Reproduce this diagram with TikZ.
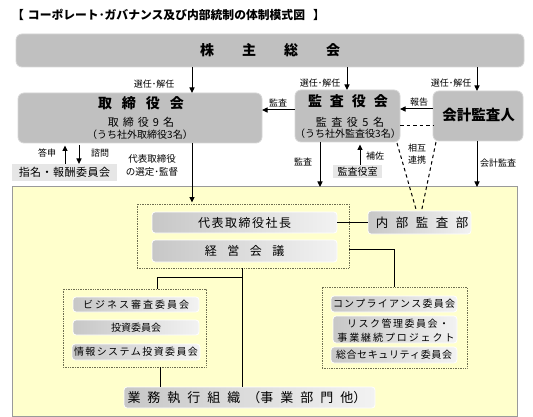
\documentclass[tikz,border=0pt]{standalone}
\usepackage{fontspec}
\setmainfont{Noto Sans CJK JP}
\usetikzlibrary{arrows.meta,calc}
\definecolor{boxgray}{HTML}{C0C0C0}
\definecolor{boxedge}{HTML}{D6D6D6}
\definecolor{paleg}{HTML}{E6E6E6}
\definecolor{yel}{HTML}{FFFFCC}
\definecolor{yeledge}{HTML}{9A9A9A}
\definecolor{dotcol}{HTML}{6E6E50}
\makeatletter
\def\ls@endmark{\ls@end}
\newcommand\ls[2]{\def\ls@gap{#1}\ls@first#2\ls@end}
\def\ls@first#1{#1\ls@next}
\def\ls@next#1{\def\ls@tmp{#1}\ifx\ls@tmp\ls@endmark\else\hspace{\ls@gap}#1\expandafter\ls@next\fi}
\makeatother
\newcommand\fsz[1]{\fontsize{#1}{#1}\selectfont}
\tikzset{
  gbox/.style={fill=boxgray, draw=boxedge, line width=0.8pt, rounded corners=6pt, inner sep=0pt, outer sep=0pt},
  pbox/.style={fill=paleg, inner sep=0pt, outer sep=0pt},
  ibox/.style={left color=black!22, right color=black!5, draw=white, line width=0.8pt, rounded corners=3pt, inner sep=0pt, outer sep=0pt},
  grp/.style={draw=dotcol, densely dotted, line width=0.7pt, inner sep=0pt, outer sep=0pt},
  arr/.style={line width=1pt, -{Triangle[length=5.5pt,width=5pt]}},
  conn/.style={line width=1pt},
  dsh/.style={line width=1pt, dash pattern=on 3.5pt off 3pt},
  lbl/.style={font=\fsz{9}, inner sep=0pt},
  txt/.style={inner sep=0pt},
}
\begin{document}
\begin{tikzpicture}[x=1pt,y=-1pt]
\useasboundingbox (0,0) rectangle (533,417);
% title
\node[txt, anchor=west, font=\fsz{11.8}\bfseries] (title) at (12,15) {【\hspace{4pt}コーポレート･ガバナンス及び内部統制の体制模式図\hspace{8pt}】};
% yellow area
\node[fill=yel, draw=yeledge, line width=1pt, minimum width=505pt, minimum height=229pt, inner sep=0pt, outer sep=0pt] (yellow) at (264.5,301.5) {};
% top boxes
\node[gbox, minimum width=508pt, minimum height=33pt] (kabu) at (270,50.5) {};
\node[txt, font=\fsz{14}\bfseries] (kabut) at (kabu) {\ls{28pt}{株主総会}};
\node[gbox, minimum width=244pt, minimum height=50pt] (tori) at (140,118) {};
\node[txt, font=\fsz{14}\bfseries] (torit1) at (141,103) {\ls{10pt}{取締役会}};
\node[txt, font=\fsz{11}] (torit2) at (141,122.5) {\ls{4pt}{取締役9名}};
\node[txt, font=\fsz{10}] (torit3) at (140,135) {（うち社外取締役3名）};
\node[gbox, minimum width=105pt, minimum height=52pt] (kansa) at (347.5,116) {};
\node[txt, font=\fsz{14}\bfseries] (kansat1) at (348,101) {\ls{8pt}{監査役会}};
\node[txt, font=\fsz{11}] (kansat2) at (350,122.5) {\ls{4.5pt}{監査役5名}};
\node[txt, font=\fsz{10}] (kansat3) at (348,133.5) {（うち社外監査役3名）};
\node[gbox, minimum width=90pt, minimum height=50pt] (kaikei) at (478,116) {};
\node[txt, font=\fsz{14.5}\bfseries] (kaikeit) at (478.5,115) {会計監査人};
% small pale boxes
\node[pbox, minimum width=105pt, minimum height=17pt] (shimei) at (64.5,172.5) {};
\node[txt, font=\fsz{11}] (shimeit) at (shimei) {\ls{0.5pt}{指名・報酬委員会}};
\node[pbox, minimum width=49pt, minimum height=13pt] (kshitsu) at (357.5,171.5) {};
\node[txt, font=\fsz{10}] (kshitsut) at (kshitsu) {監査役室};
% groups
\node[grp, minimum width=212pt, minimum height=64pt] (topgrp) at (243,236) {};
\node[grp, minimum width=143pt, minimum height=78pt] (leftgrp) at (134.5,328) {};
\node[grp, minimum width=145pt, minimum height=81pt] (rightgrp) at (394.5,327.5) {};
% inner boxes
\node[ibox, minimum width=185pt, minimum height=21pt] (daihyo) at (244.5,222.5) {};
\node[txt, font=\fsz{12}] (daihyot) at (daihyo) {\ls{1.5pt}{代表取締役社長}};
\node[ibox, minimum width=185pt, minimum height=22pt] (keiei) at (244.5,251) {};
\node[txt, font=\fsz{12}] (keieit) at (keiei) {\ls{10.5pt}{経営会議}};
\node[ibox, minimum width=103pt, minimum height=23pt] (naibu) at (419.5,222.5) {};
\node[txt, font=\fsz{12.5}] (naibut) at (422,222.5) {\ls{7.5pt}{内部監査部}};
\node[ibox, minimum width=126pt, minimum height=15pt] (biz) at (136,304.5) {};
\node[txt, font=\fsz{10}] (bizt) at (biz) {\ls{2pt}{ビジネス審査委員会}};
\node[ibox, minimum width=126pt, minimum height=15pt] (toshi) at (136,327.5) {};
\node[txt, font=\fsz{10}] (toshit) at (toshi) {投資委員会};
\node[ibox, minimum width=128pt, minimum height=16pt] (joho) at (136,352) {};
\node[txt, font=\fsz{10}] (johot) at (joho) {\ls{1.4pt}{情報システム投資委員会}};
\node[ibox, minimum width=126pt, minimum height=16pt] (comp) at (394,304) {};
\node[txt, font=\fsz{10}] (compt) at (comp) {\ls{1.2pt}{コンプライアンス委員会}};
\node[ibox, minimum width=124pt, minimum height=27pt] (risk) at (395,329.5) {};
\node[txt, font=\fsz{10}] (riskt1) at (398,324) {\ls{1.5pt}{リスク管理委員会・}};
\node[txt, font=\fsz{10}] (riskt2) at (396,338) {\ls{1.9pt}{事業継続プロジェクト}};
\node[ibox, minimum width=126pt, minimum height=16pt] (sec) at (394,355) {};
\node[txt, font=\fsz{10}] (sect) at (sec) {\ls{0.6pt}{総合セキュリティ委員会}};
\node[ibox, minimum width=251pt, minimum height=21pt] (gyomu) at (249.5,397.5) {};
\node[txt, font=\fsz{13}] (gyomut) at (247,397.5) {\ls{7pt}{業務執行組織{（事}業部門{他）}}};
% helper coordinates
\coordinate (x1) at (192,0);
\coordinate (x2) at (347,0);
\coordinate (x3) at (477,0);
\coordinate (ya) at (0,110);
\coordinate (yb) at (0,109);
\coordinate (yc) at (0,126);
\coordinate (xa) at (65,0);
\coordinate (xb) at (79,0);
\coordinate (xk) at (320,0);
\coordinate (xh) at (360,0);
\coordinate (yd) at (0,249);
\coordinate (xr) at (394,0);
\coordinate (xm) at (242,0);
\coordinate (ye) at (0,277);
\coordinate (xl) at (157,0);
\coordinate (xn) at (160,0);
% connectors
\draw[arr] (kabu.south -| x1) -- (tori.north -| x1);
\draw[arr] (kabu.south -| x2) -- (kansa.north -| x2);
\draw[arr] (kabu.south -| x3) -- (kaikei.north -| x3);
\node[lbl] (sen1) at (154,84) {選任･解任};
\node[lbl] (sen2) at (320,83) {選任･解任};
\node[lbl] (sen3) at (451,83) {選任･解任};
\draw[arr] (kansa.west |- ya) -- (tori.east |- ya);
\node[lbl] (kansal) at (278,103) {監査};
\draw[arr] (kaikei.west |- yb) -- (kansa.east |- yb);
\node[lbl] (hokoku) at (419,102) {報告};
\draw[dsh] (kansa.east |- yc) -- (kaikei.west |- yc);
\draw[arr, shorten >=2.5pt] (shimei.north -| xa) -- (tori.south -| xa);
\draw[arr, shorten <=2.5pt] (tori.south -| xb) -- (shimei.north -| xb);
\node[lbl] (toshin) at (47,153) {答申};
\node[lbl] (shimon) at (100,153) {諮問};
\node[txt, font=\fsz{9.5}] (senteia) at (152,159) {代表取締役};
\node[txt, font=\fsz{9.5}] (senteib) at (152,172) {の選定･監督};
\draw[arr, shorten >=1.5pt] (tori.south -| x1) -- (topgrp.north -| x1);
\draw[arr] (kansa.south -| xk) -- (yellow.north -| xk);
\node[lbl] (kansal2) at (303,162) {監査};
\draw[arr, shorten >=2.5pt] (kshitsu.north -| xh) -- (kansa.south -| xh);
\node[lbl] (hosa) at (375,156) {補佐};
\draw[arr] (kaikei.south -| x3) -- (yellow.north -| x3);
\node[lbl] (kaikeil) at (498,163) {会計監査};
\node[lbl] (sogo1) at (417,148) {相互};
\node[lbl] (sogo2) at (417,160) {連携};
\draw[dsh] ($(kansa.south east)+(-3,1)$) -- ($(naibu.north)+(-3,0)$);
\draw[dsh] ($(kaikei.south west)+(3,1)$) -- ($(naibu.north)+(2,0)$);
\draw[conn] (daihyo.east) -- (naibu.west);
\draw[conn] (topgrp.east |- yd) -| (rightgrp.north -| xr);
\draw[conn] (topgrp.south -| xm) -- (gyomu.north -| xm);
\draw[conn] (xm |- ye) -| (leftgrp.north -| xl);
\draw[conn] (leftgrp.south -| xn) -- (gyomu.north -| xn);
\end{tikzpicture}
\end{document}
